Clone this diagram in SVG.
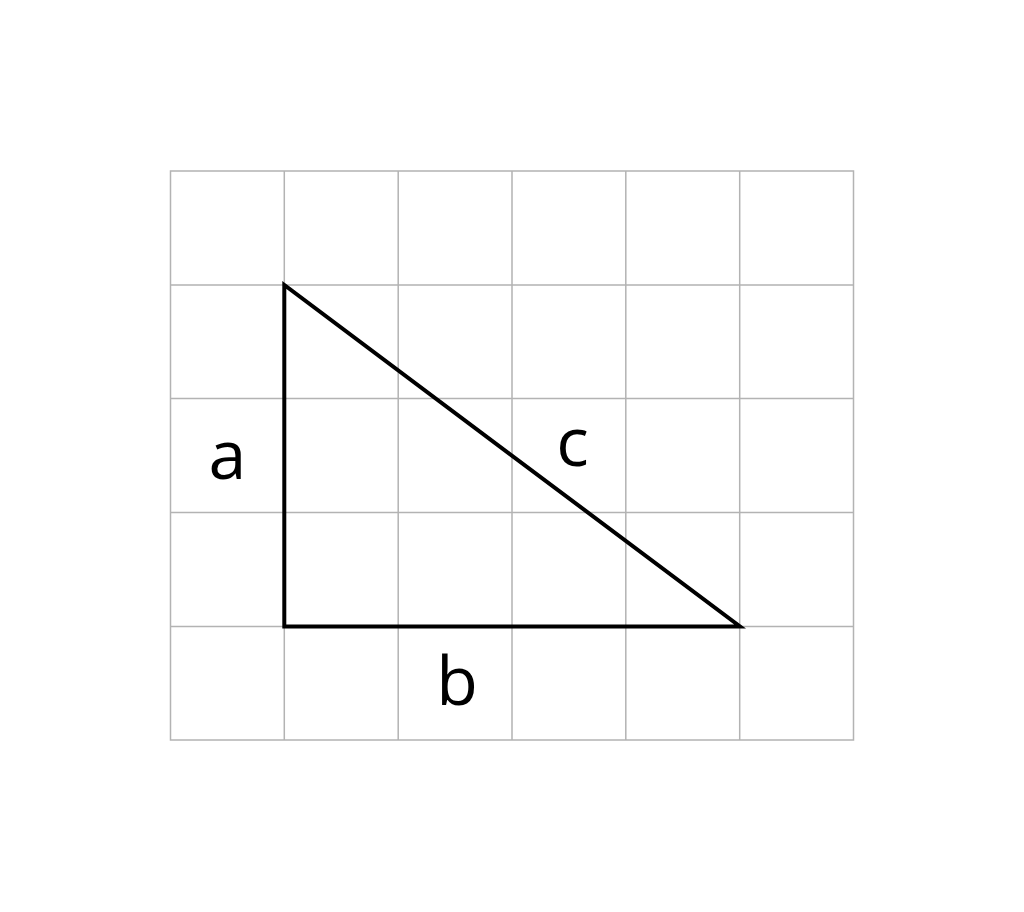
<svg xmlns="http://www.w3.org/2000/svg" width="1024" height="912" viewBox="0 0 1024 912">
<style>
.grid{stroke:#b3b3b3;stroke-width:1.5;fill:none}
.tri{stroke:#000;stroke-width:4;fill:none;stroke-linejoin:miter}
.lbl{font-family:"Open Sans","Liberation Sans",sans-serif;font-size:68px;fill:#000;text-anchor:middle}
</style>
<rect width="1024" height="912" fill="#fff"/>
<g id="grid" class="grid">
<rect x="170.5" y="171" width="683" height="569"/>
<path d="M284.3 171V740M398.2 171V740M512 171V740M625.8 171V740M739.7 171V740M170.5 285H853.5M170.5 398.5H853.5M170.5 512.5H853.5M170.5 626.5H853.5"/>
</g>
<g id="triangle">
<path class="tri" d="M284.3 285V626.5H740Z"/>
</g>
<g id="label-a"><text class="lbl" x="227.5" y="479">a</text></g>
<g id="label-b"><text class="lbl" x="457" y="705">b</text></g>
<g id="label-c"><text class="lbl" x="572.5" y="466">c</text></g>
</svg>
